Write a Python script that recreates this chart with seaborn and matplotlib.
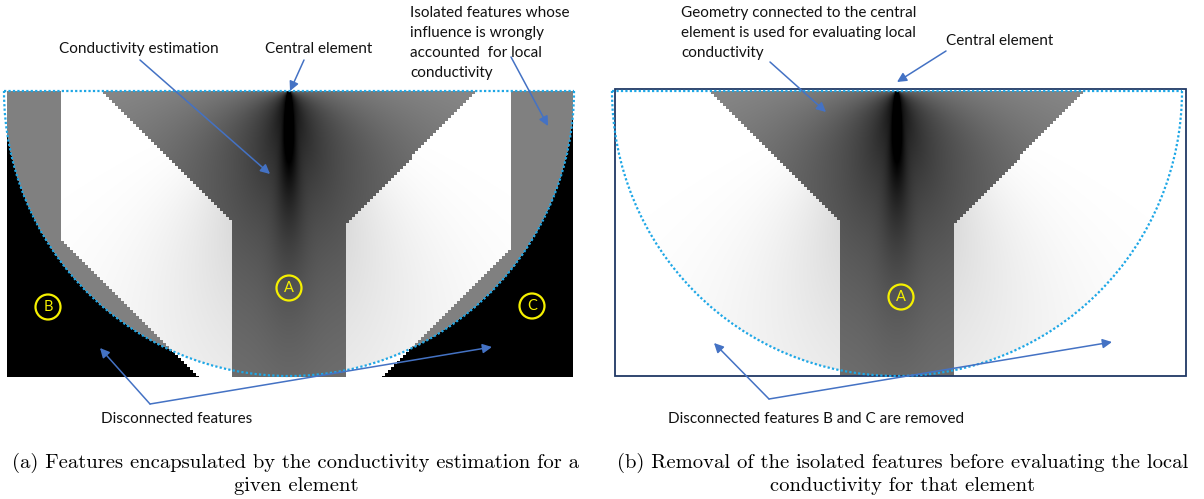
import numpy as np
import pandas as pd
import matplotlib
matplotlib.use("Agg")
import matplotlib.pyplot as plt
import seaborn as sns
from matplotlib.path import Path
from matplotlib.patches import Arc, Circle, Rectangle

FIG_W, FIG_H = 1204, 499

# panel boxes in figure pixels: left, top, right, bottom
panel_boxes = {"a": (7, 91, 573, 377), "b": (615, 89, 1186, 376)}
centre_x = {"a": 289, "b": 897}
centre_y = 91
circle_r = 285
cell = 3  # mesh step of the geometry (staircase edges)

# outlines relative to the central element (x to the right, y downwards)
y_shape = [(-188, 0), (188, 0), (57, 133), (57, 300), (-58, 300), (-58, 130)]
feature_b = [(-300, 0), (-229, 0), (-229, 148), (-87, 290), (-87, 300), (-300, 300)]
feature_c = [(300, 0), (222, 0), (222, 156), (88, 290), (88, 300), (300, 300)]

# grey levels of the estimation field
y_grey_far = 0.55
near_drop, near_decay = 0.17, 90      # darkening round the central element
axis_drop, axis_decay = 0.30, 300     # darkening below it
streak_drop, streak_decay = 0.4, 90   # thin dark line under the element
fan_drop, fan_decay = 0.12, 90        # softer fan round that line
white_shade, white_decay = 0.45, 180
band_grey = 0.5

# yellow feature labels
label_names = ["A", "B", "C", "A"]
label_x = [289, 48, 532, 901]
label_y = [288, 307, 306, 297]

# annotation texts: (x, y of first line, lines)
notes = [
    (59, 49, ["Conductivity estimation"]),
    (265, 49, ["Central element"]),
    (410, 13, ["Isolated features whose", "influence is wrongly",
               "accounted  for local", "conductivity"]),
    (681, 13, ["Geometry connected to the central",
               "element is used for evaluating local", "conductivity"]),
    (946, 41, ["Central element"]),
    (101, 419, ["Disconnected features"]),
    (668, 419, ["Disconnected features B and C are removed"]),
]

# arrows: tail x, tail y, head x, head y
arrow_tail_x = [140, 304, 511, 150, 150, 770, 946, 769, 769]
arrow_tail_y = [60, 60, 57, 404, 404, 62, 51, 399, 399]
arrow_head_x = [270, 290, 548, 100, 492, 826, 897, 714, 1112]
arrow_head_y = [174, 91, 126, 348, 347, 112, 82, 343, 342]

captions = [
    (296, ["(a) Features encapsulated by the conductivity estimation for a",
           "given element"]),
    (903, ["(b) Removal of the isolated features before evaluating the local",
           "conductivity for that element"]),
]

ARROW = "#4472c4"
DOTS = "#1ea7e6"
YELLOW = "#f5f000"


def field(panel, keep_features):
    x0, y0, x1, y1 = panel_boxes[panel]
    xs = np.arange(x0, x1) + 0.5 - centre_x[panel]
    ys = np.arange(y0, y1) + 0.5 - centre_y
    dx, dy = np.meshgrid(xs, ys)
    r = np.hypot(dx, dy) + 1e-6
    cos_t = np.clip(dy / r, 0, 1)
    inside = r <= circle_r

    # coarse mesh for the material map
    qx = (np.floor(dx / cell) + 0.5) * cell
    qy = (np.floor(dy / cell) + 0.5) * cell
    pts = np.column_stack([qx.ravel(), qy.ravel()])
    in_y = Path(y_shape).contains_points(pts).reshape(dx.shape)
    in_b = Path(feature_b).contains_points(pts).reshape(dx.shape)
    in_c = Path(feature_c).contains_points(pts).reshape(dx.shape)

    white = 1 - white_shade * cos_t ** 4 * np.exp(-r / white_decay)
    img = np.where(inside, white, 1.0)

    grey_y = (y_grey_far
              - near_drop * np.exp(-r / near_decay)
              - axis_drop * cos_t * np.exp(-r / axis_decay)
              - streak_drop * np.exp(-(dx / (1.2 + 0.1 * dy)) ** 2) * np.exp(-dy / streak_decay)
              - fan_drop * np.exp(-(dx / (2 + 0.4 * dy)) ** 2) * np.exp(-dy / fan_decay))
    grey_y = np.clip(grey_y, 0, 1)
    img = np.where(in_y & (inside | (dy < circle_r + 3)), grey_y, img)
    if keep_features:
        side = in_b | in_c
        img = np.where(side & inside, band_grey, img)
        img = np.where(side & ~inside, 0.0, img)
    return img


fig = plt.figure(figsize=(FIG_W / 100, FIG_H / 100), dpi=100)

for panel, keep in [("a", True), ("b", False)]:
    x0, y0, x1, y1 = panel_boxes[panel]
    ax = fig.add_axes([x0 / FIG_W, 1 - y1 / FIG_H, (x1 - x0) / FIG_W, (y1 - y0) / FIG_H])
    sns.heatmap(pd.DataFrame(field(panel, keep)), ax=ax, cmap="gray", vmin=0, vmax=1,
                cbar=False, xticklabels=False, yticklabels=False, rasterized=True)
    ax.set_axis_off()

top = fig.add_axes([0, 0, 1, 1])
top.set_xlim(0, FIG_W)
top.set_ylim(FIG_H, 0)
top.set_axis_off()
top.patch.set_alpha(0)

# frame of panel (b)
bx0, by0, bx1, by1 = panel_boxes["b"]
top.add_patch(Rectangle((bx0, by0), bx1 - bx0, by1 - by0, fill=False,
                        edgecolor="#203864", lw=1.3, zorder=3))

# dotted outline of the estimation disc
for panel in ["a", "b"]:
    cx = centre_x[panel]
    top.add_patch(Arc((cx, centre_y), 2 * circle_r, 2 * circle_r, theta1=0, theta2=180,
                      color=DOTS, lw=1.6, linestyle=(0, (1, 1)), zorder=4))
    top.plot([cx - circle_r, cx + circle_r], [centre_y, centre_y], color=DOTS,
             lw=1.6, linestyle=(0, (1, 1)), zorder=4)

for name, lx, ly in zip(label_names, label_x, label_y):
    top.add_patch(Circle((lx, ly), 12.5, fill=False, edgecolor=YELLOW, lw=1.6, zorder=5))
    top.text(lx, ly, name, color=YELLOW, fontsize=10.5, family="Lato",
             ha="center", va="center", zorder=6)

for tx, ty, hx, hy in zip(arrow_tail_x, arrow_tail_y, arrow_head_x, arrow_head_y):
    top.annotate("", xy=(hx, hy), xytext=(tx, ty),
                 arrowprops=dict(arrowstyle="-|>", color=ARROW, lw=1.1,
                                 mutation_scale=14, shrinkA=0, shrinkB=0), zorder=7)

for nx, ny, lines in notes:
    for i, line in enumerate(lines):
        top.text(nx, ny + 20 * i, line, fontsize=11, family="Lato",
                 ha="left", va="center", color="#111111")

for cx, lines in captions:
    for i, line in enumerate(lines):
        top.text(cx, 463 + 23 * i, line, fontsize=14.8, family="cmr10",
                 ha="center", va="center", color="black")

fig.savefig("out.png", dpi=100)
